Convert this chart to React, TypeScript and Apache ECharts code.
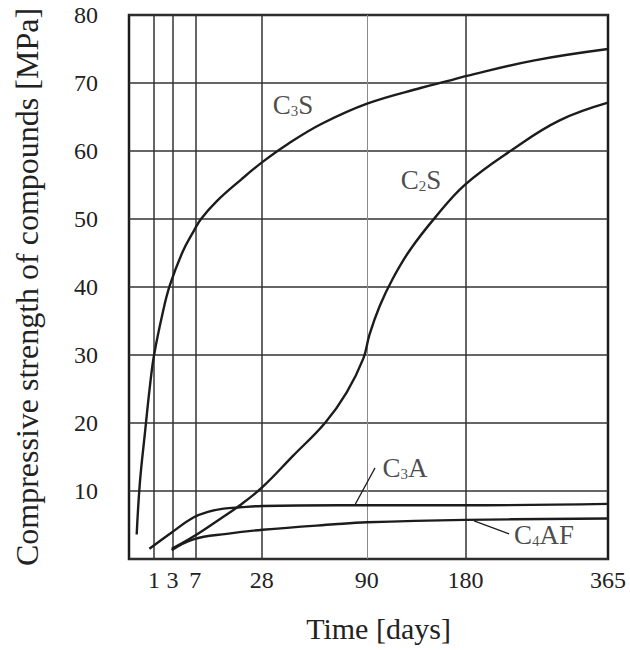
import React, { useEffect, useRef } from "react";
import * as echarts from "echarts";

// ---- data (time in days, strength in MPa) ----
const xTickDays = [1, 3, 7, 28, 90, 180, 365];

const c3sDays = [0.094, 0.19, 0.41, 0.7, 1, 1.84, 2.67, 4.64, 6.72, 8.25, 12.2, 20, 28.4, 40, 59.1, 90.7, 136, 162, 180, 260, 365];
const c3sValues = [3.6, 11.3, 18.7, 25.5, 30, 36.4, 40.3, 45.3, 48.3, 50.0, 52.6, 55.8, 58.4, 61.0, 64.0, 67.0, 69.3, 70.3, 71.0, 73.3, 75.0];

const c2sDays = [2.9, 6.6, 13.2, 19.6, 28.4, 42.9, 61.1, 75.4, 87.4, 92, 100, 110, 125, 149, 180, 235, 295, 365];
const c2sValues = [1.5, 3.3, 5.9, 7.9, 10.6, 15.2, 20.0, 24.5, 29.5, 33.0, 37.2, 41.0, 45.3, 50.2, 55.1, 60.3, 64.5, 67.1];

const c3aDays = [0.66, 2.9, 6.6, 10.4, 14.2, 19.6, 28.4, 70.8, 180, 365];
const c3aValues = [1.5, 3.9, 6.1, 7.0, 7.4, 7.6, 7.8, 7.9, 7.9, 8.1];

const c4afDays = [2.9, 6.6, 15.2, 28.4, 67, 90, 180, 365];
const c4afValues = [1.3, 2.9, 3.7, 4.3, 5.1, 5.4, 5.75, 5.95];

// label anchors: [days, MPa]
const labelNames = ["{m|C}{s|3}{m|S}", "{m|C}{s|2}{m|S}", "{m|C}{s|3}{m|A}", "{m|C}{s|4}{m|AF}"];
const labelDays = [42.8, 135.7, 121.2, 274];
const labelValues = [66.8, 55.8, 13.4, 3.6];

// leader lines: [days, MPa] pairs
const c3aLeaderDays = [81.3, 96.3];
const c3aLeaderValues = [8.0, 13.4];
const c4afLeaderDays = [189.4, 229.8];
const c4afLeaderValues = [5.6, 3.7];

const FONT = "'Liberation Serif', 'Times New Roman', serif";
const INK = "#1c1c1c";

const toPoints = (days: number[], vals: number[]) => days.map((d, i) => [Math.sqrt(d), vals[i]]);

export default function App() {
  const ref = useRef<HTMLDivElement>(null);

  useEffect(() => {
    if (!ref.current) return;
    const chart = echarts.init(ref.current, undefined, { renderer: "svg" });

    const curve = (name: string, days: number[], vals: number[]) => ({
      name,
      type: "line",
      data: toPoints(days, vals),
      showSymbol: false,
      smooth: 0.4,
      silent: true,
      lineStyle: { color: INK, width: 2.4 },
      z: 5,
    });

    const leader = (days: number[], vals: number[]) => ({
      type: "line",
      data: toPoints(days, vals),
      showSymbol: false,
      silent: true,
      lineStyle: { color: INK, width: 1.2 },
      z: 5,
    });

    const verticalGrid = xTickDays
      .filter((d) => d < 365)
      .map((d) => ({
        xAxis: Math.sqrt(d),
        lineStyle: d === 90 ? { color: "#8a8a8a", width: 1, type: "solid" } : { color: "#333", width: 1.5, type: "solid" },
      }));

    const c3s: any = curve("C3S", c3sDays, c3sValues);
    c3s.markLine = {
      silent: true,
      symbol: ["none", "none"],
      label: { show: false },
      animation: false,
      data: verticalGrid,
    };

    chart.setOption({
      animation: false,
      backgroundColor: "#ffffff",
      grid: {
        left: 129,
        top: 15,
        right: 22,
        bottom: 91,
        show: true,
        borderColor: INK,
        borderWidth: 2.5,
        backgroundColor: "transparent",
      },
      xAxis: {
        type: "value",
        min: 0,
        max: Math.sqrt(365),
        name: "Time [days]",
        nameLocation: "middle",
        nameGap: 54,
        nameTextStyle: { fontFamily: FONT, fontSize: 30, color: "#222", padding: [0, 0, 0, 20] },
        axisLine: { show: false },
        axisTick: { show: false },
        splitLine: { show: false },
        axisLabel: {
          customValues: xTickDays.map((d) => Math.sqrt(d)),
          formatter: (v: number) => String(Math.round(v * v)),
          fontFamily: FONT,
          fontSize: 24,
          color: "#222",
          margin: 9,
        },
      },
      yAxis: {
        type: "value",
        min: 0,
        max: 80,
        interval: 10,
        name: "Compressive strength of compounds [MPa]",
        nameLocation: "middle",
        nameGap: 86,
        nameTextStyle: { fontFamily: FONT, fontSize: 32, color: "#222" },
        axisLine: { show: false },
        axisTick: { show: false },
        splitLine: { show: true, lineStyle: { color: "#333", width: 1.5 } },
        axisLabel: {
          formatter: (v: number) => (v === 0 ? "" : String(v)),
          fontFamily: FONT,
          fontSize: 24,
          color: "#222",
          margin: 31,
        },
      },
      series: [
        c3s,
        curve("C2S", c2sDays, c2sValues),
        curve("C3A", c3aDays, c3aValues),
        curve("C4AF", c4afDays, c4afValues),
        leader(c3aLeaderDays, c3aLeaderValues),
        leader(c4afLeaderDays, c4afLeaderValues),
        {
          type: "scatter",
          silent: true,
          symbolSize: 0,
          z: 6,
          data: labelNames.map((n, i) => ({ value: [Math.sqrt(labelDays[i]), labelValues[i]], name: n })),
          label: {
            show: true,
            position: "inside",
            formatter: (p: any) => p.name,
            rich: {
              m: { fontFamily: FONT, fontSize: 27, color: "#1c1c1c", lineHeight: 27, verticalAlign: "bottom" },
              s: { fontFamily: FONT, fontSize: 15, color: "#1c1c1c", lineHeight: 15, verticalAlign: "bottom" },
            },
          },
        },
      ],
    });

    return () => chart.dispose();
  }, []);

  return <div ref={ref} style={{ position: "fixed", left: 0, top: 0, width: 630, height: 650, background: "#fff" }} />;
}
